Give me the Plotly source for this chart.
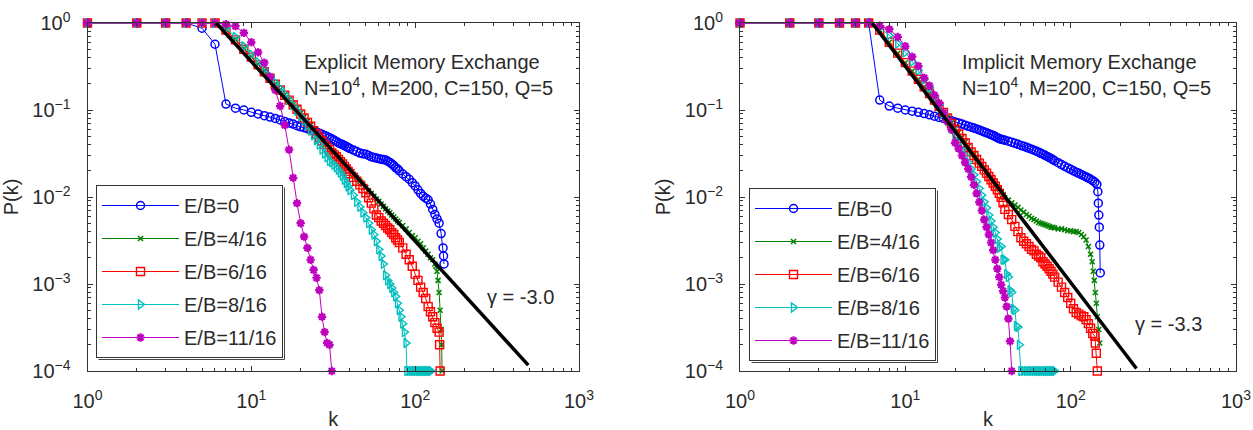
import plotly.graph_objects as go

# ---------------- data ----------------
K1_40 = list(range(1, 41))
K42_80 = list(range(42, 81, 2))

# Left panel: Explicit Memory Exchange
kL_b = K1_40 + K42_80 + list(range(84, 149, 4)) + [149, 150]
pL_b = [1, 1, 1, 1, 0.87, 0.57, 0.117, 0.105, 0.1, 0.094,
        0.09, 0.086, 0.083, 0.08, 0.077, 0.074, 0.071, 0.069, 0.066, 0.064,
        0.0625, 0.061, 0.0595, 0.058, 0.056, 0.054, 0.0525, 0.051, 0.0495, 0.048,
        0.0465, 0.045, 0.0435, 0.042, 0.041, 0.04, 0.039, 0.038, 0.037, 0.036,
        0.0346, 0.0333, 0.032, 0.0314, 0.031, 0.030, 0.029, 0.0285, 0.028, 0.0276,
        0.0272, 0.0269, 0.0266, 0.0258, 0.025, 0.024, 0.023, 0.0218, 0.021, 0.020,
        0.0184, 0.0171, 0.016, 0.0146, 0.0134, 0.0121, 0.011, 0.0102, 0.0097, 0.0093,
        0.0083, 0.0072, 0.0063, 0.0056, 0.005, 0.0038, 0.0026,
        0.0021, 0.0017]

kL_g = K1_40 + K42_80 + list(range(84, 133, 4)) + [134, 136, 138, 140, 142, 144, 145, 146]
pL_g = [1, 1, 1, 1, 1, 1, 0.84, 0.65, 0.51, 0.41,
        0.335, 0.28, 0.235, 0.2, 0.172, 0.15, 0.132, 0.117, 0.104, 0.092,
        0.083, 0.074, 0.067, 0.06, 0.055, 0.05, 0.046, 0.043, 0.04, 0.037,
        0.0345, 0.0322, 0.03, 0.0282, 0.0265, 0.025, 0.0236, 0.0223, 0.0211, 0.02,
        0.0182, 0.0166, 0.0152, 0.014, 0.0128, 0.0118, 0.011, 0.0102, 0.0095, 0.0089,
        0.0083, 0.0078, 0.0073, 0.0069, 0.0066, 0.0062, 0.0059, 0.0056, 0.0053, 0.0051,
        0.0047, 0.0043, 0.0039, 0.0036, 0.0034, 0.0031, 0.0029, 0.0026, 0.0024, 0.0022,
        0.002, 0.0019, 0.0017,
        0.0016, 0.0014, 0.0011, 0.0008, 0.0005, 0.0003, 0.0002, 0.0001]

kL_r = K1_40 + K42_80 + list(range(84, 141, 4)) + [141, 142]
pL_r = [1, 1, 1, 1, 1, 1, 0.83, 0.64, 0.5, 0.405,
        0.33, 0.275, 0.232, 0.198, 0.17, 0.148, 0.13, 0.115, 0.102, 0.09,
        0.081, 0.072, 0.065, 0.058, 0.053, 0.048, 0.044, 0.04, 0.037, 0.035,
        0.032, 0.0305, 0.029, 0.027, 0.0255, 0.024, 0.0225, 0.021, 0.0197, 0.0185,
        0.0168, 0.0152, 0.0138, 0.0125, 0.0112, 0.0098, 0.0085, 0.0073, 0.0062, 0.0058,
        0.0053, 0.005, 0.0047, 0.0044, 0.0042, 0.0039, 0.0037, 0.0034, 0.0032, 0.003,
        0.0026, 0.0022, 0.0019, 0.0016, 0.0013, 0.0011, 0.00092, 0.0008, 0.00068, 0.00055,
        0.00048, 0.00042, 0.00036, 0.00031, 0.00028,
        0.0002, 0.0001]

kL_c = K1_40 + list(range(42, 89, 2)) + [89] + list(range(92, 126, 3))
pL_c = [1, 1, 1, 1, 1, 1, 0.88, 0.69, 0.54, 0.435,
        0.355, 0.295, 0.245, 0.207, 0.177, 0.152, 0.131, 0.113, 0.098, 0.085,
        0.075, 0.066, 0.058, 0.051, 0.045, 0.04, 0.035, 0.0315, 0.0285, 0.026,
        0.025, 0.0235, 0.022, 0.0205, 0.019, 0.0175, 0.0158, 0.0145, 0.0132, 0.012,
        0.0105, 0.0088, 0.0077, 0.0066, 0.0058, 0.005, 0.0042, 0.0037, 0.0031, 0.0025,
        0.0021, 0.0017, 0.00126, 0.0011, 0.001, 0.0009, 0.0008, 0.00072, 0.0006, 0.0005,
        0.00042, 0.00035, 0.00028, 0.00021,
        0.0001,
        0.0001, 0.0001, 0.0001, 0.0001, 0.0001, 0.0001, 0.0001, 0.0001, 0.0001, 0.0001, 0.0001, 0.0001]

kL_m = list(range(1, 32))
pL_m = [1, 1, 1, 1, 1, 1, 0.97, 0.92, 0.77, 0.6,
        0.46, 0.35, 0.24, 0.17, 0.111, 0.067, 0.035, 0.0166, 0.0085, 0.005,
        0.0035, 0.0026, 0.0019, 0.00145, 0.00118, 0.00085, 0.00042, 0.00028, 0.00021, 0.0002,
        0.0001]

kL_fit = [6.1, 490]
pL_fit = [1, 0.000117]

# Right panel: Implicit Memory Exchange
kR_b = K1_40 + K42_80 + list(range(84, 145, 4)) + [146, 147, 148, 149, 150, 151]
pR_b = [1, 1, 1, 1, 1, 1, 0.13, 0.111, 0.105, 0.1,
        0.097, 0.094, 0.091, 0.088, 0.085, 0.082, 0.08, 0.077, 0.075, 0.073,
        0.071, 0.069, 0.067, 0.065, 0.0635, 0.062, 0.0605, 0.059, 0.0575, 0.056,
        0.0547, 0.0535, 0.052, 0.051, 0.0495, 0.048, 0.047, 0.046, 0.0455, 0.045,
        0.0438, 0.0425, 0.0414, 0.0403, 0.0392, 0.0382, 0.0372, 0.0363, 0.0354, 0.0345,
        0.0336, 0.0327, 0.0318, 0.031, 0.0301, 0.0293, 0.0285, 0.0277, 0.0269, 0.0261,
        0.0248, 0.0236, 0.0225, 0.0216, 0.0208, 0.02, 0.0193, 0.0187, 0.0181, 0.0176,
        0.017, 0.0165, 0.016, 0.0154, 0.0148, 0.014,
        0.0115, 0.0085, 0.0062, 0.0045, 0.0028, 0.00134]

kR_g = K1_40 + K42_80 + list(range(84, 133, 4)) + [135, 137, 139, 141, 143, 145, 148, 150]
pR_g = [1, 1, 1, 1, 1, 1, 0.83, 0.6, 0.45, 0.35,
        0.28, 0.226, 0.185, 0.155, 0.13, 0.11, 0.094, 0.082, 0.071, 0.062,
        0.055, 0.048, 0.043, 0.038, 0.034, 0.031, 0.028, 0.0255, 0.0235, 0.0215,
        0.0198, 0.0182, 0.0168, 0.0155, 0.0143, 0.0133, 0.0124, 0.0115, 0.0106, 0.0098,
        0.0092, 0.0086, 0.0081, 0.0076, 0.0071, 0.0067, 0.0063, 0.006, 0.0057, 0.0055,
        0.0053, 0.0051, 0.005, 0.0049, 0.0048, 0.0047, 0.0046, 0.0045, 0.0045, 0.0044,
        0.0043, 0.0043, 0.0042, 0.0041, 0.0041, 0.004, 0.004, 0.0039, 0.0037, 0.0035,
        0.0032, 0.0027, 0.0022,
        0.0018, 0.0014, 0.0011, 0.0008, 0.0006, 0.00042, 0.0003, 0.00021]

kR_r = K1_40 + K42_80 + list(range(84, 141, 4)) + [141, 143, 145]
pR_r = [1, 1, 1, 1, 1, 1, 0.83, 0.6, 0.45, 0.35,
        0.28, 0.226, 0.185, 0.155, 0.13, 0.11, 0.094, 0.081, 0.07, 0.06,
        0.053, 0.047, 0.042, 0.037, 0.033, 0.03, 0.027, 0.0245, 0.0225, 0.0205,
        0.0188, 0.0172, 0.0158, 0.0145, 0.0133, 0.0121, 0.011, 0.0099, 0.0086, 0.0072,
        0.0063, 0.0055, 0.0046, 0.004, 0.0034, 0.0031, 0.0029, 0.0027, 0.0025, 0.0024,
        0.0022, 0.0021, 0.002, 0.0018, 0.0017, 0.0016, 0.0015, 0.0014, 0.0013, 0.0012,
        0.00105, 0.00092, 0.0008, 0.0007, 0.0006, 0.00052, 0.00047, 0.00045, 0.00043, 0.00042,
        0.00039, 0.00035, 0.00031, 0.00027, 0.00025,
        0.00021, 0.00016, 0.0001]

kR_c = list(range(1, 51)) + list(range(52, 81, 2))
pR_c = [1, 1, 1, 1, 1, 1, 0.88, 0.72, 0.58, 0.46,
        0.36, 0.285, 0.225, 0.18, 0.143, 0.115, 0.092, 0.075, 0.061, 0.05,
        0.042, 0.035, 0.03, 0.025, 0.021, 0.018, 0.015, 0.0125, 0.0105, 0.0088,
        0.0075, 0.0062, 0.0053, 0.0045, 0.0039, 0.0033, 0.0026, 0.0027, 0.0019, 0.0019,
        0.0013, 0.0012, 0.00085, 0.0008, 0.00052, 0.0005, 0.00033, 0.00032, 0.0002, 0.0001,
        0.0001, 0.0001, 0.0001, 0.0001, 0.0001, 0.0001, 0.0001, 0.0001, 0.0001, 0.0001,
        0.0001, 0.0001, 0.0001, 0.0001, 0.0001]

kR_m = list(range(1, 45))
pR_m = [1, 1, 1, 1, 1, 1, 0.93, 0.85, 0.69, 0.54,
        0.41, 0.32, 0.234, 0.19, 0.148, 0.12, 0.093, 0.074, 0.06, 0.042,
        0.036, 0.03, 0.025, 0.021, 0.017, 0.0138, 0.011, 0.0087, 0.007, 0.0055,
        0.0045, 0.0037, 0.003, 0.00245, 0.0019, 0.0015, 0.0012, 0.00098, 0.00083, 0.0007,
        0.00055, 0.0004, 0.00022, 0.0001]

kR_fit = [6.3, 250]
pR_fit = [1, 0.000107]

series_names = ["E/B=0", "E/B=4/16", "E/B=6/16", "E/B=8/16", "E/B=11/16"]
series_colors = ["#0000ff", "#008000", "#ff0000", "#00bfbf", "#bf00bf"]
x_tickvals = [1, 10, 100, 1000]
x_ticktext = ["10<sup>0</sup>", "10<sup>1</sup>", "10<sup>2</sup>", "10<sup>3</sup>"]
x_minor = [2, 3, 4, 5, 6, 7, 8, 9, 20, 30, 40, 50, 60, 70, 80, 90, 200, 300, 400, 500, 600, 700, 800, 900]
y_tickvals = [1e-4, 1e-3, 1e-2, 1e-1, 1]
y_ticktext = ["10<sup>\u22124</sup>", "10<sup>\u22123</sup>", "10<sup>\u22122</sup>",
              "10<sup>\u22121</sup>", "10<sup>0</sup>"]
y_minor = [m * 10.0 ** e for e in (-4, -3, -2, -1) for m in (2, 3, 4, 5, 6, 7, 8, 9)]

# ---------------- figure ----------------
W, H = 1253, 430
FONT = "Liberation Sans, Arial, Helvetica, sans-serif"
TXT = "#2a2a2a"
AX = "#333333"

marker_styles = [
    dict(symbol="circle-open", size=8, lw=1.5),
    dict(symbol="x-thin-open", size=5, lw=1.5),
    dict(symbol="square-open", size=8, lw=1.4),
    dict(symbol="triangle-right-open", size=8, lw=1.4),
    dict(symbol="asterisk-open", size=7, lw=2.2),
]

fig = go.Figure()

panels = [
    ("x", "y", "legend", [(kL_b, pL_b), (kL_g, pL_g), (kL_r, pL_r), (kL_c, pL_c), (kL_m, pL_m)], (kL_fit, pL_fit)),
    ("x2", "y2", "legend2", [(kR_b, pR_b), (kR_g, pR_g), (kR_r, pR_r), (kR_c, pR_c), (kR_m, pR_m)], (kR_fit, pR_fit)),
]

for xa, ya, lg, data, fit in panels:
    for i, (kk, pp) in enumerate(data):
        ms = marker_styles[i]
        fig.add_trace(go.Scatter(
            x=kk, y=pp, mode="lines+markers", name=series_names[i],
            line=dict(color=series_colors[i], width=1),
            marker=dict(symbol=ms["symbol"], size=ms["size"], color=series_colors[i],
                        line=dict(color=series_colors[i], width=ms["lw"])),
            xaxis=xa, yaxis=ya, legend=lg, legendgroup=lg + str(i), cliponaxis=False,
        ))
    fig.add_trace(go.Scatter(
        x=fit[0], y=fit[1], mode="lines", line=dict(color="black", width=3.5),
        xaxis=xa, yaxis=ya, showlegend=False, cliponaxis=False,
    ))


def px(v):
    return v / W


def py(v):
    return (H - v) / H


common_x = dict(type="log", range=[0, 3], tickmode="array", tickvals=x_tickvals, ticktext=x_ticktext,
                ticks="inside", ticklen=5, tickcolor=AX, showline=True, linecolor=AX, linewidth=1,
                mirror="ticks", showgrid=False, zeroline=False, ticklabelstandoff=12, automargin=False,
                minor=dict(tickmode="array", tickvals=x_minor, ticks="inside", ticklen=3,
                           tickcolor=AX, showgrid=False),
                tickfont=dict(size=20, color=TXT, family=FONT),
                title=dict(text="k", font=dict(size=20, color=TXT, family=FONT), standoff=8))
common_y = dict(type="log", range=[-4, 0], tickmode="array", tickvals=y_tickvals, ticktext=y_ticktext,
                ticks="inside", ticklen=5, tickcolor=AX, showline=True, linecolor=AX, linewidth=1,
                mirror="ticks", showgrid=False, zeroline=False, ticklabelstandoff=12, automargin=False,
                minor=dict(tickmode="array", tickvals=y_minor, ticks="inside", ticklen=3,
                           tickcolor=AX, showgrid=False),
                tickfont=dict(size=20, color=TXT, family=FONT),
                title=dict(text="P(k)", font=dict(size=20, color=TXT, family=FONT), standoff=8))

legend_common = dict(bgcolor="white", bordercolor=AX, borderwidth=1,
                     font=dict(size=20, color=TXT, family=FONT), xanchor="left", yanchor="top",
                     itemwidth=77, tracegroupgap=4, traceorder="grouped")

# legend shadow edges (bottom and right), in pixels
shadow_style = dict(type="line", xref="paper", yref="paper", layer="above", line=dict(color="#444", width=1))
shapes = []
for (l, t, r, b) in [(96, 185, 284.5, 359.5), (749, 188, 937.5, 362.5)]:
    shapes.append(dict(x0=px(l + 2.5), x1=px(r), y0=py(b), y1=py(b), **shadow_style))
    shapes.append(dict(x0=px(r), x1=px(r), y0=py(t + 2.5), y1=py(b), **shadow_style))

fig.update_layout(
    template="none",
    width=W, height=H, margin=dict(l=0, r=0, t=0, b=0, pad=0, autoexpand=False),
    paper_bgcolor="white", plot_bgcolor="white",
    font=dict(family=FONT, color=TXT),
    xaxis=dict(domain=[px(87.5), px(579)], anchor="y", **common_x),
    yaxis=dict(domain=[py(371), py(23)], anchor="x", **common_y),
    xaxis2=dict(domain=[px(740), px(1236)], anchor="y2", **common_x),
    yaxis2=dict(domain=[py(371), py(23)], anchor="x2", **common_y),
    legend=dict(x=px(96), y=py(185), **legend_common),
    legend2=dict(x=px(749), y=py(188), **legend_common),
    shapes=shapes,
    annotations=[
        dict(text="Explicit Memory Exchange<br>N=10<sup>4</sup>, M=200, C=150, Q=5", xref="paper", yref="paper",
             x=px(302), y=py(75), xanchor="left", yanchor="middle", align="left", showarrow=False,
             font=dict(size=20, color=TXT, family=FONT)),
        dict(text="Implicit Memory Exchange<br>N=10<sup>4</sup>, M=200, C=150, Q=5", xref="paper", yref="paper",
             x=px(960), y=py(75), xanchor="left", yanchor="middle", align="left", showarrow=False,
             font=dict(size=20, color=TXT, family=FONT)),
        dict(text="\u03b3 = -3.0", xref="paper", yref="paper", x=px(485), y=py(297), xanchor="left",
             yanchor="middle", showarrow=False, font=dict(size=20, color=TXT, family=FONT)),
        dict(text="\u03b3 = -3.3", xref="paper", yref="paper", x=px(1133), y=py(324), xanchor="left",
             yanchor="middle", showarrow=False, font=dict(size=20, color=TXT, family=FONT)),
    ],
)

fig.write_html("out.html")
